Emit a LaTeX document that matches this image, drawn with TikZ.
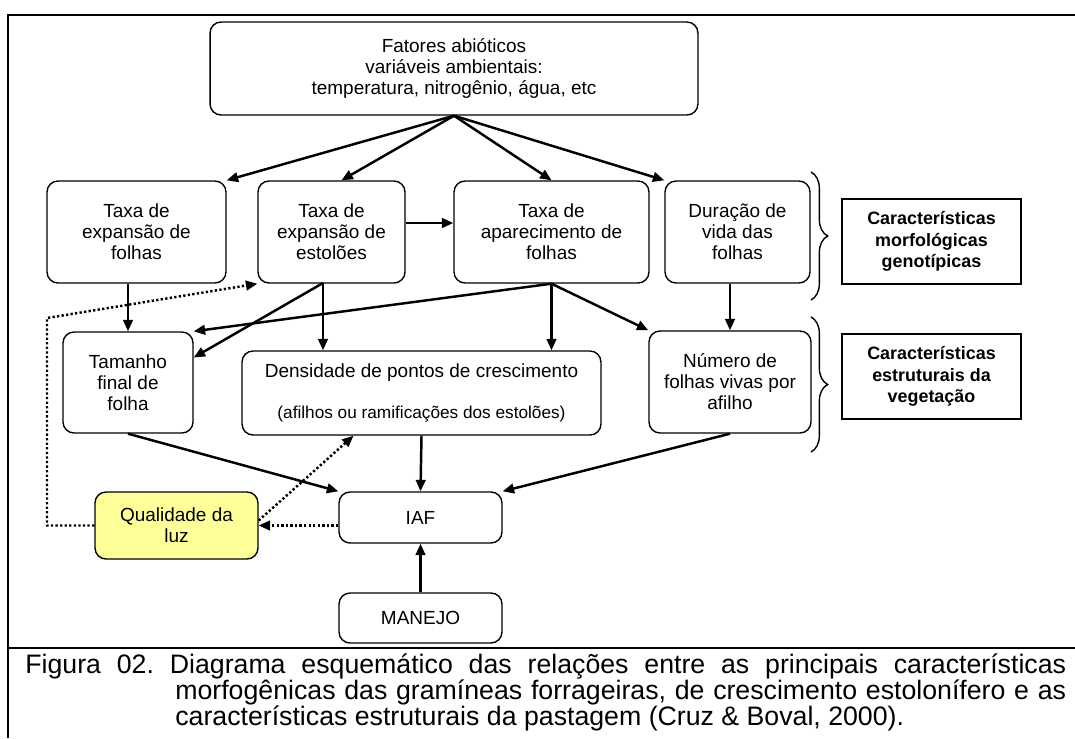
\documentclass[tikz,border=0pt]{standalone}
\usepackage{fontspec}
\setmainfont{Liberation Sans}
\usepackage{tikz}
\usetikzlibrary{arrows.meta, decorations.pathreplacing, positioning}
\definecolor{luzyellow}{RGB}{255,255,153}

\begin{document}
\begin{tikzpicture}[
    x=0.02cm, y=-0.02cm,
    box/.style={rectangle, rounded corners=0.22cm, draw, line width=0.8pt, align=center, font=\fontsize{10.8}{12}\selectfont, inner sep=2pt},
    tagbox/.style={rectangle, draw, line width=0.9pt, align=center, font=\bfseries\fontsize{10.2}{12.4}\selectfont, minimum width=3.58cm, minimum height=1.7cm},
    arrow/.style={-{Triangle[length=6.5pt, width=5.5pt]}, line width=1.4pt},
    dotarrow/.style={arrow, dash pattern=on 1.3pt off 1.3pt},
    brace/.style={decorate, decoration={brace, amplitude=9.5pt}, line width=0.8pt}
]
    \useasboundingbox (0,0) rectangle (1075,738);

    % Frame
    \draw[line width=1.6pt] (8,738) -- (8,15) -- (1075,15);
    \draw[line width=1.6pt] (8,648) -- (1075,648);

    % Abiotic factors
    \node[box, minimum width=9.76cm, minimum height=1.86cm] (fat) at (454,68.5) {Fatores abióticos\\variáveis ambientais:\\temperatura, nitrogênio, água, etc};

    % Morphological characteristics
    \node[box, minimum width=3.58cm, minimum height=2.04cm] (tef) at (136.5,232) {Taxa de\\expansão de\\folhas};
    \node[box, minimum width=2.94cm, minimum height=2.04cm] (tee) at (331.5,232) {Taxa de\\expansão de\\estolões};
    \node[box, minimum width=3.9cm, minimum height=2.04cm] (taf) at (551.5,232) {Taxa de\\aparecimento de\\folhas};
    \node[box, minimum width=2.9cm, minimum height=2.04cm] (dvf) at (737.5,232) {Duração de\\vida das\\folhas};
    \node[tagbox] (morf) at (931.5,241.5) {Características\\morfológicas\\genotípicas};

    % Structural characteristics
    \node[box, minimum width=2.6cm, minimum height=2.02cm] (tam) at (128,382.5) {Tamanho\\final de\\folha};
    \node[box, minimum width=7.18cm, minimum height=1.68cm] (den) at (421.5,393) {Densidade de pontos de crescimento\\[11pt]{\fontsize{9.8}{12}\selectfont (afilhos ou ramificações dos estolões)}};
    \node[box, minimum width=3.24cm, minimum height=2.04cm] (num) at (730,382) {Número de\\folhas vivas por\\afilho};
    \node[tagbox] (estr) at (931.5,376.5) {Características\\estruturais da\\vegetação};

    % Light, LAI and management
    \node[box, fill=luzyellow, minimum width=3.26cm, minimum height=1.34cm] (qual) at (176.5,525.5) {Qualidade da\\luz};
    \node[box, minimum width=3.26cm, minimum height=1.02cm] (iaf) at (420.5,517.5) {IAF};
    \node[box, minimum width=3.26cm, minimum height=1cm] (man) at (420.5,618) {MANEJO};

    % Braces
    \draw[brace] (811,172) -- (811,300);
    \draw[brace] (811,317) -- (811,452);

    % Arrows
    \draw[arrow] (fat.south) -- (tef.north east);
    \draw[arrow] (fat.south) -- ([xshift=0.2cm]tee.north);
    \draw[arrow] (fat.south) -- (taf.north);
    \draw[arrow] (fat.south) -- (dvf.north west);
    \draw[arrow] ([yshift=0.18cm]tee.east) -- ([yshift=0.18cm]taf.west);

    \draw[arrow] (tef.south -| tam.north) -- (tam.north);
    \coordinate (teeb) at (323,283);
    \draw[arrow] (teeb) -- (teeb |- den.north);
    \draw[arrow] (teeb) -- ([yshift=0.5cm]tam.east);
    \draw[arrow] (taf.south) -- (tam.north east);
    \draw[arrow] (taf.south) -- (taf.south |- den.north);
    \draw[arrow] (taf.south) -- (num.north west);
    \draw[arrow] (dvf.south -| num.north) -- (num.north);

    \draw[arrow] (tam.south) -- (iaf.north west);
    \draw[arrow] (den.south) -- (iaf.north);
    \draw[arrow] (num.south) -- (iaf.north east);
    \draw[arrow] (man) -- (iaf);

    % Light feedback
    \draw[dotarrow] (qual.east -| iaf.west) -- (qual.east);
    \draw[dotarrow] ([yshift=0.1cm]qual.east) -- ([xshift=-1.36cm]den.south);
    \coordinate (bend) at (47,318);
    \draw[dotarrow] (qual.west) -| (bend) -- (tee.south west);

    % Caption
    \node[anchor=north west, inner sep=0pt, text width=20.82cm, align=justify, font=\fontsize{15.2}{14.8}\selectfont] (cap) at (25,653) {\noindent\frenchspacing\hangindent=3cm\hangafter=1\tolerance=9999\hyphenpenalty=10000 Figura 02. Diagrama esquemático das relações entre as principais características morfogênicas das gramíneas forrageiras, de crescimento estolonífero e as características estruturais da pastagem (Cruz \& Boval, 2000).\par};
\end{tikzpicture}
\end{document}
